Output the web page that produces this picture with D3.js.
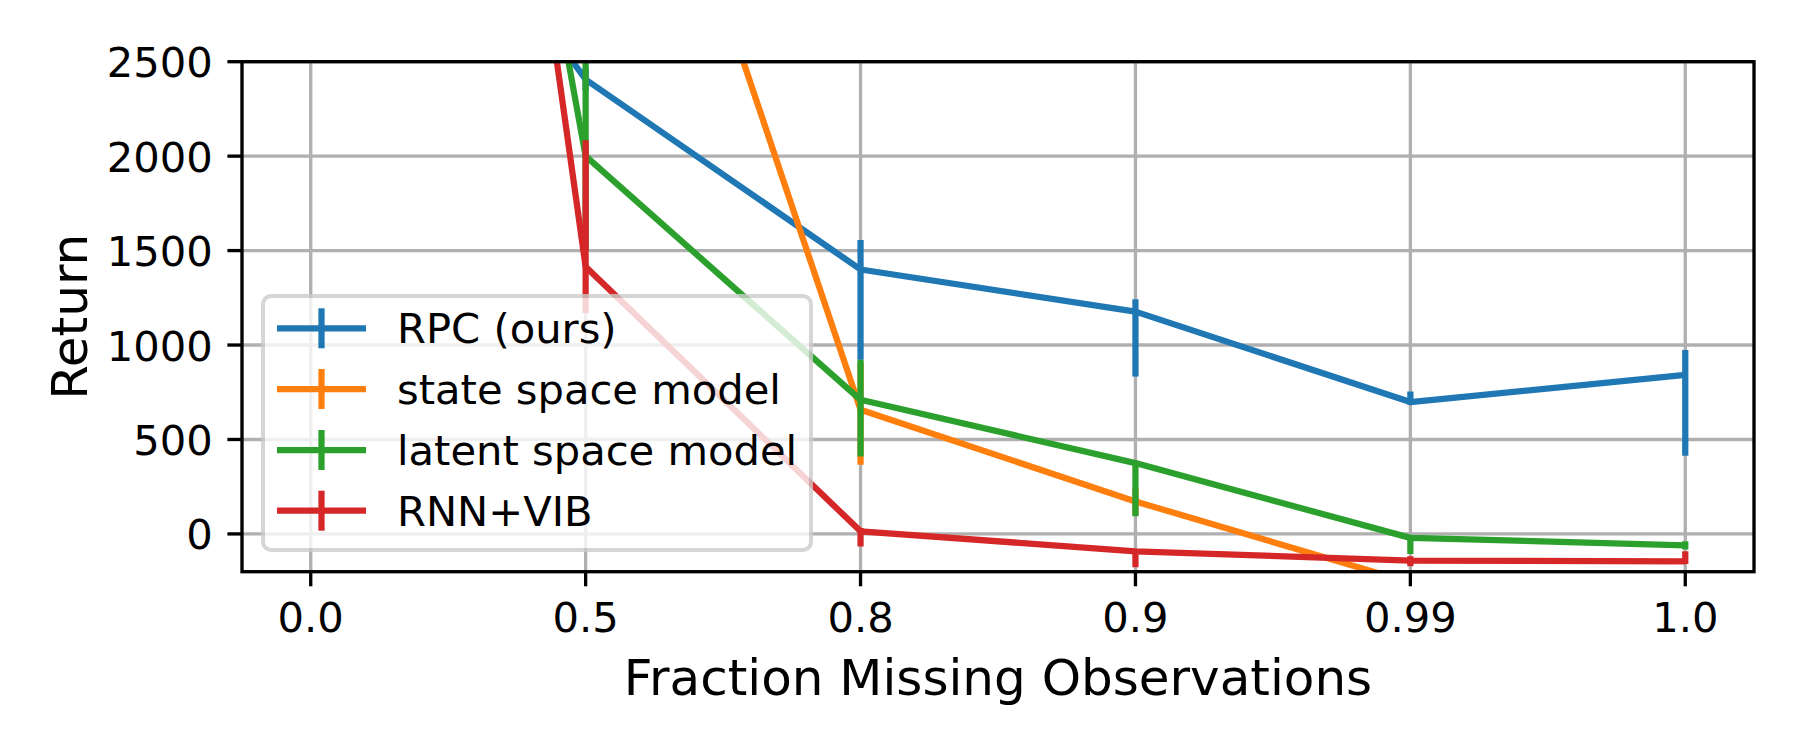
<!DOCTYPE html>
<html>
<head>
<meta charset="utf-8">
<script src="https://cdn.jsdelivr.net/npm/d3@7"></script>
<style>
    body { margin: 0; background: #ffffff; }
    text { font-family: "DejaVu Sans", sans-serif; fill: #000000; }
</style>
</head>
<body>
<svg id="chart"></svg>
<script>
// x categories (fraction of missing observations), evenly spaced
const fractions = ["0.0", "0.5", "0.8", "0.9", "0.99", "1.0"];
const yTicks = [0, 500, 1000, 1500, 2000, 2500];

// mean return and lower / upper error for each method
const rpcMean = [4400, 2406, 1400, 1177, 698, 842];
const rpcLow = [150, 60, 478, 344, 14, 428];
const rpcHigh = [150, 60, 156, 65, 56, 132];

const ssmMean = [5300, 4980, 657, 172, -258, -330];
const ssmLow = [200, 200, 291, 70, 60, 60];
const ssmHigh = [200, 200, 250, 70, 60, 60];

const lsmMean = [10000, 2000, 710, 375, -21, -60];
const lsmLow = [300, 500, 300, 282, 85, 23];
const lsmHigh = [300, 700, 212, 5, 8, 21];

const rnnMean = [11800, 1414, 14, -92, -141, -145];
const rnnLow = [300, 246, 80, 84, 30, 14];
const rnnHigh = [300, 670, 18, 9, 23, 53];

const seriesNames = ["RPC (ours)", "state space model", "latent space model", "RNN+VIB"];
const seriesColors = ["#1f77b4", "#ff7f0e", "#2ca02c", "#d62728"];

function createChart() {
    const width = 1800;
    const height = 750;
    const margin = { top: 61.7, right: 46, bottom: 178.3, left: 242 };
    const lw = 6.25;        // 1.5pt at 300 dpi
    const thin = 3.33;      // 0.8pt at 300 dpi
    const tickLen = 14.6;
    const fs = 41.67;       // 10pt
    const labelFs = 50;     // 12pt

    const svg = d3.select("#chart")
        .attr("width", width)
        .attr("height", height);

    svg.append("rect")
        .attr("width", width)
        .attr("height", height)
        .attr("fill", "#ffffff");

    const x0 = margin.left, x1 = width - margin.right;
    const y0 = margin.top, y1 = height - margin.bottom;

    const xScale = d3.scaleLinear()
        .domain([-0.25, fractions.length - 0.75])
        .range([x0, x1]);

    const yScale = d3.scaleLinear()
        .domain([-200, 2500])
        .range([y1, y0]);

    // clip everything to the plot area
    svg.append("clipPath")
        .attr("id", "plot-clip")
        .append("rect")
        .attr("x", x0)
        .attr("y", y0)
        .attr("width", x1 - x0)
        .attr("height", y1 - y0);

    // grid
    const grid = svg.append("g").attr("clip-path", "url(#plot-clip)");
    grid.selectAll(".vgrid")
        .data(fractions)
        .enter()
        .append("line")
        .attr("x1", (d, i) => xScale(i))
        .attr("x2", (d, i) => xScale(i))
        .attr("y1", y0)
        .attr("y2", y1)
        .attr("stroke", "#b0b0b0")
        .attr("stroke-width", thin);
    grid.selectAll(".hgrid")
        .data(yTicks)
        .enter()
        .append("line")
        .attr("x1", x0)
        .attr("x2", x1)
        .attr("y1", d => yScale(d))
        .attr("y2", d => yScale(d))
        .attr("stroke", "#b0b0b0")
        .attr("stroke-width", thin);

    // lines with error bars
    const allSeries = [
        { mean: rpcMean, low: rpcLow, high: rpcHigh },
        { mean: ssmMean, low: ssmLow, high: ssmHigh },
        { mean: lsmMean, low: lsmLow, high: lsmHigh },
        { mean: rnnMean, low: rnnLow, high: rnnHigh }
    ];

    const line = d3.line()
        .x((d, i) => xScale(i))
        .y(d => yScale(d));

    const plot = svg.append("g").attr("clip-path", "url(#plot-clip)");
    allSeries.forEach((s, k) => {
        plot.append("path")
            .datum(s.mean)
            .attr("d", line)
            .attr("fill", "none")
            .attr("stroke", seriesColors[k])
            .attr("stroke-width", lw)
            .attr("stroke-linejoin", "round");

        plot.selectAll(".bar" + k)
            .data(s.mean)
            .enter()
            .append("line")
            .attr("x1", (d, i) => xScale(i))
            .attr("x2", (d, i) => xScale(i))
            .attr("y1", (d, i) => yScale(d - s.low[i]))
            .attr("y2", (d, i) => yScale(d + s.high[i]))
            .attr("stroke", seriesColors[k])
            .attr("stroke-width", lw);
    });

    // spines
    svg.append("rect")
        .attr("x", x0)
        .attr("y", y0)
        .attr("width", x1 - x0)
        .attr("height", y1 - y0)
        .attr("fill", "none")
        .attr("stroke", "#000000")
        .attr("stroke-width", thin)
        .attr("stroke-linecap", "square");

    // x ticks
    const xt = svg.append("g");
    xt.selectAll("line")
        .data(fractions)
        .enter()
        .append("line")
        .attr("x1", (d, i) => xScale(i))
        .attr("x2", (d, i) => xScale(i))
        .attr("y1", y1)
        .attr("y2", y1 + tickLen)
        .attr("stroke", "#000000")
        .attr("stroke-width", thin);
    xt.selectAll("text")
        .data(fractions)
        .enter()
        .append("text")
        .attr("x", (d, i) => xScale(i))
        .attr("y", y1 + 60.3)
        .attr("text-anchor", "middle")
        .style("font-size", fs + "px")
        .text(d => d);

    // y ticks
    const yt = svg.append("g");
    yt.selectAll("line")
        .data(yTicks)
        .enter()
        .append("line")
        .attr("x1", x0 - tickLen)
        .attr("x2", x0)
        .attr("y1", d => yScale(d))
        .attr("y2", d => yScale(d))
        .attr("stroke", "#000000")
        .attr("stroke-width", thin);
    yt.selectAll("text")
        .data(yTicks)
        .enter()
        .append("text")
        .attr("x", x0 - 2 * tickLen)
        .attr("y", d => yScale(d) + 15.5)
        .attr("text-anchor", "end")
        .style("font-size", fs + "px")
        .text(d => d);

    // axis labels
    svg.append("text")
        .attr("x", (x0 + x1) / 2)
        .attr("y", 695)
        .attr("text-anchor", "middle")
        .style("font-size", labelFs + "px")
        .text("Fraction Missing Observations");

    svg.append("text")
        .attr("transform", `translate(87, ${(y0 + y1) / 2}) rotate(-90)`)
        .attr("text-anchor", "middle")
        .style("font-size", labelFs + "px")
        .text("Return");

    // legend
    const legend = svg.append("g");
    legend.append("rect")
        .attr("x", 263)
        .attr("y", 296)
        .attr("width", 548)
        .attr("height", 254)
        .attr("rx", 8)
        .attr("fill", "#ffffff")
        .attr("stroke", "#cccccc")
        .attr("stroke-width", 4)
        .attr("opacity", 0.8);

    const rowY = [328.3, 389, 450, 510.7];
    const items = legend.selectAll(".legend")
        .data(seriesNames)
        .enter()
        .append("g")
        .attr("transform", (d, i) => `translate(0, ${rowY[i]})`);

    items.append("line")
        .attr("x1", 277)
        .attr("x2", 366)
        .attr("y1", 0)
        .attr("y2", 0)
        .attr("stroke", (d, i) => seriesColors[i])
        .attr("stroke-width", lw);
    items.append("line")
        .attr("x1", 321.5)
        .attr("x2", 321.5)
        .attr("y1", -20)
        .attr("y2", 20)
        .attr("stroke", (d, i) => seriesColors[i])
        .attr("stroke-width", lw);
    items.append("text")
        .attr("x", 397)
        .attr("y", 15)
        .style("font-size", fs + "px")
        .text(d => d);
}

createChart();
</script>
</body>
</html>
